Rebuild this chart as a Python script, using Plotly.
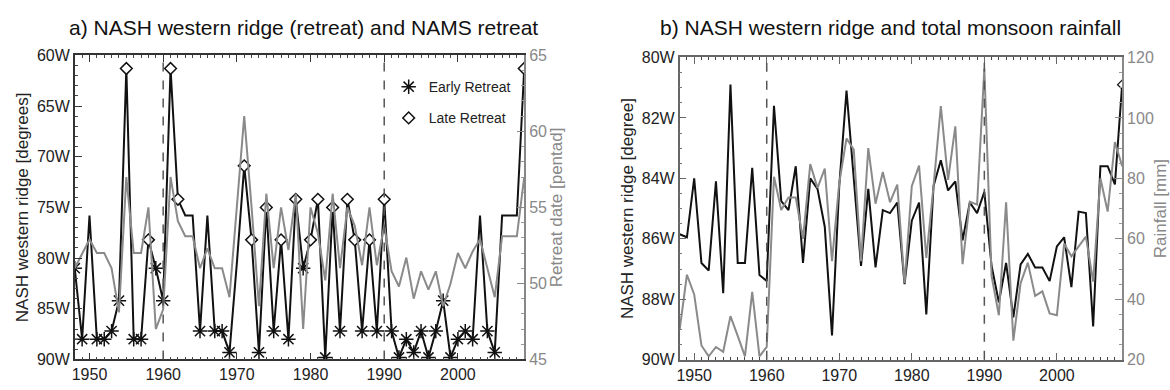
import plotly.graph_objects as go

W, H = 1170, 390

years = list(range(1948, 2010))

# a) NASH western ridge (degrees W) during retreat
ridge_a = [81.0, 88.0, 75.8, 88.0, 88.0, 87.2, 84.2, 61.3, 88.0, 88.0,
           78.2, 81.0, 84.2, 61.3, 74.2, 75.8, 75.8, 87.2, 75.8, 87.2,
           87.2, 89.3, 80.5, 70.9, 78.2, 89.3, 75.0, 87.2, 78.2, 88.0,
           74.2, 81.0, 78.2, 74.2, 89.8, 75.0, 87.2, 74.2, 78.2, 87.2,
           78.2, 87.2, 74.2, 87.2, 89.8, 88.0, 89.3, 87.2, 89.8, 87.2,
           84.2, 89.8, 88.0, 87.2, 88.0, 75.8, 87.2, 89.3, 75.8, 75.8,
           75.8, 61.3]

# a) NAMS retreat date (pentad)
retreat = [51.0, 52.0, 52.9, 52.0, 52.0, 51.0, 48.1, 57.0, 52.0, 52.0,
           55.0, 47.0, 48.3, 57.0, 54.1, 53.1, 53.1, 51.0, 52.3, 51.0,
           51.0, 49.1, 55.0, 61.0, 55.0, 48.5, 55.9, 51.0, 55.0, 52.2,
           55.9, 47.0, 55.0, 53.3, 50.2, 55.9, 51.0, 55.0, 53.8, 51.2,
           55.0, 51.2, 53.8, 50.8, 49.8, 51.7, 49.0, 50.8, 49.6, 50.8,
           48.5, 50.0, 52.0, 51.0, 52.1, 52.9, 51.0, 49.1, 53.1, 53.1,
           53.1, 57.0]

early_years = [1948, 1949, 1951, 1952, 1953, 1954, 1956, 1957, 1959, 1960,
               1965, 1967, 1968, 1969, 1973, 1975, 1977, 1979, 1982, 1984,
               1987, 1989, 1991, 1992, 1993, 1994, 1995, 1996, 1997, 1998,
               1999, 2000, 2001, 2002, 2004, 2005]
late_years = [1955, 1958, 1961, 1962, 1971, 1972, 1974, 1976, 1978, 1980,
              1981, 1983, 1985, 1986, 1988, 1990, 2009]

# b) NASH western ridge (degrees W) and total monsoon rainfall (mm)
ridge_b = [85.85, 85.95, 84.0, 86.8, 87.05, 84.1, 87.8, 80.9, 86.8, 86.8,
           83.65, 87.2, 87.4, 81.6, 84.75, 85.05, 83.6, 86.8, 84.0, 84.35,
           85.6, 89.2, 84.25, 81.1, 84.0, 86.9, 84.35, 86.95, 85.05, 85.15,
           84.8, 87.5, 85.4, 84.8, 88.5, 84.25, 83.4, 84.4, 84.1, 86.05,
           84.8, 85.15, 84.45, 86.9, 88.1, 86.8, 88.6, 86.85, 86.5, 86.95,
           86.95, 87.4, 86.25, 85.95, 87.6, 85.1, 85.15, 88.9, 83.6, 83.6,
           84.2, 80.9]

rainfall = [30.0, 48.1, 41.6, 24.7, 21.1, 24.2, 22.6, 34.4, 27.9, 21.1,
            42.4, 21.1, 24.2, 80.5, 69.5, 73.7, 73.7, 60.0, 84.7, 76.8,
            83.2, 52.6, 78.5, 93.2, 89.5, 52.6, 90.0, 71.6, 82.1, 72.1,
            77.9, 45.3, 77.4, 84.2, 53.7, 77.4, 103.9, 79.5, 97.2, 51.6,
            72.3, 71.3, 116.3, 47.6, 34.7, 72.1, 26.3, 45.3, 52.1, 41.1,
            42.6, 35.3, 34.7, 58.4, 54.2, 57.4, 60.7, 45.8, 80.0, 69.0,
            92.0, 84.0]

shift_years = [1960, 1990]

a_ticks = [60, 65, 70, 75, 80, 85, 90]
a_ticktext = ["60W", "65W", "70W", "75W", "80W", "85W", "90W"]
b_ticks = [80, 82, 84, 86, 88, 90]
b_ticktext = ["80W", "82W", "84W", "86W", "88W", "90W"]
pentad_ticks = [45, 50, 55, 60, 65]
rain_ticks = [20, 40, 60, 80, 100, 120]
year_ticks = [1950, 1960, 1970, 1980, 1990, 2000]

FONT = "Liberation Sans, Arial, sans-serif"
BLACK = "#111111"
GREY = "#8a8a8a"

fig = go.Figure()

# ---- panel a ----
fig.add_trace(go.Scatter(x=years, y=retreat, mode="lines", yaxis="y2", xaxis="x",
                         line=dict(color=GREY, width=2), showlegend=False))
fig.add_trace(go.Scatter(x=years, y=ridge_a, mode="lines", yaxis="y", xaxis="x",
                         line=dict(color=BLACK, width=2), showlegend=False))
e_vals = [ridge_a[years.index(yr)] for yr in early_years]
l_vals = [ridge_a[years.index(yr)] for yr in late_years]
fig.add_trace(go.Scatter(x=early_years, y=e_vals, mode="markers", xaxis="x", yaxis="y",
                         name="Early Retreat", legendgroup="e",
                         marker=dict(symbol="asterisk-open", size=12, color=BLACK,
                                     line=dict(color=BLACK, width=1.5))))
fig.add_trace(go.Scatter(x=late_years, y=l_vals, mode="markers", xaxis="x", yaxis="y",
                         name="Late Retreat", legendgroup="l",
                         marker=dict(symbol="diamond", size=9, color="white",
                                     line=dict(color=BLACK, width=1.5))))

# ---- panel b ----
fig.add_trace(go.Scatter(x=years, y=rainfall, mode="lines", xaxis="x2", yaxis="y4",
                         line=dict(color=GREY, width=2), showlegend=False))
fig.add_trace(go.Scatter(x=years, y=ridge_b, mode="lines", xaxis="x2", yaxis="y3",
                         line=dict(color=BLACK, width=2), showlegend=False))
fig.add_trace(go.Scatter(x=years[-1:], y=ridge_b[-1:], mode="markers", xaxis="x2", yaxis="y3",
                         showlegend=False,
                         marker=dict(symbol="diamond", size=7, color="white",
                                     line=dict(color=BLACK, width=1.3))))

# dashed shift lines
for xr in ["x", "x2"]:
    for yr in shift_years:
        fig.add_shape(type="line", xref=xr, yref=("y domain" if xr == "x" else "y3 domain"),
                      x0=yr, x1=yr, y0=0, y1=1,
                      line=dict(color="#555555", width=1.5, dash="dash"))

def px_x(p):
    return p / W

def px_y(p):
    return 1 - p / H

xa_dom = [px_x(72), px_x(523)]
ya_dom = [px_y(367.5), px_y(49.5)]
xb_dom = [px_x(679), px_x(1123)]
yb_dom = [px_y(367.7), px_y(51.7)]

common_x = dict(range=[1948, 2009], tickvals=year_ticks, ticks="inside", ticklen=7,
                tickwidth=1.2, showline=True, linewidth=1.5, mirror="ticks",
                showgrid=False, zeroline=False,
                minor=dict(ticks="inside", dtick=1, ticklen=3, tickcolor="#444", showgrid=False),
                tickfont=dict(size=16, color="#222", family=FONT))

fig.update_layout(
    width=W, height=H,
    margin=dict(l=0, r=0, t=0, b=0),
    paper_bgcolor="white", plot_bgcolor="white",
    font=dict(family=FONT, color="#222"),
    xaxis=dict(domain=xa_dom, anchor="y", linecolor="#333", tickcolor="#333", **common_x),
    yaxis=dict(domain=ya_dom, anchor="x", range=[90, 60], tickvals=a_ticks, ticktext=a_ticktext,
               ticks="inside", ticklen=7, tickwidth=1.2, tickcolor="#333",
               showline=True, linewidth=1.5, linecolor="#333", showgrid=False, zeroline=False,
               minor=dict(ticks="inside", dtick=1, ticklen=3, tickcolor="#444", showgrid=False),
               tickfont=dict(size=16, color="#222", family=FONT),
               title=dict(text="NASH western ridge [degrees]", font=dict(size=17, color="#222"),
                          standoff=4)),
    yaxis2=dict(overlaying="y", side="right", anchor="x", range=[45, 65], tickvals=pentad_ticks,
                ticks="inside", ticklen=7, tickwidth=1.2, tickcolor="#888",
                showline=True, linewidth=1.5, linecolor="#888", showgrid=False, zeroline=False,
                minor=dict(ticks="inside", dtick=1, ticklen=3, tickcolor="#999", showgrid=False),
                tickfont=dict(size=16, color="#888", family=FONT),
                title=dict(text="Retreat date [pentad]", font=dict(size=17, color="#888"),
                           standoff=4)),
    xaxis2=dict(domain=xb_dom, anchor="y3", linecolor="#666", tickcolor="#666", **common_x),
    yaxis3=dict(domain=yb_dom, anchor="x2", range=[90, 80], tickvals=b_ticks, ticktext=b_ticktext,
                ticks="inside", ticklen=7, tickwidth=1.2, tickcolor="#666",
                showline=True, linewidth=1.5, linecolor="#666", showgrid=False, zeroline=False,
                minor=dict(ticks="inside", dtick=0.5, ticklen=3, tickcolor="#777", showgrid=False),
                tickfont=dict(size=16, color="#222", family=FONT),
                title=dict(text="NASH western ridge [degree]", font=dict(size=17, color="#222"),
                           standoff=4)),
    yaxis4=dict(overlaying="y3", side="right", anchor="x2", range=[20, 120], tickvals=rain_ticks,
                ticks="inside", ticklen=7, tickwidth=1.2, tickcolor="#888",
                showline=True, linewidth=1.5, linecolor="#888", showgrid=False, zeroline=False,
                minor=dict(ticks="inside", dtick=5, ticklen=3, tickcolor="#999", showgrid=False),
                tickfont=dict(size=16, color="#888", family=FONT),
                title=dict(text="Rainfall [mm]", font=dict(size=17, color="#888"), standoff=4)),
    legend=dict(x=px_x(387), y=px_y(66), xanchor="left", yanchor="top",
                bgcolor="rgba(0,0,0,0)", font=dict(size=14, color="#222", family=FONT),
                tracegroupgap=10, itemwidth=30),
    annotations=[
        dict(text="a) NASH western ridge (retreat) and NAMS retreat", xref="paper", yref="paper",
             x=px_x(302), y=px_y(20), xanchor="center", yanchor="middle", showarrow=False,
             font=dict(size=21, color="#111", family=FONT)),
        dict(text="b) NASH western ridge and total monsoon rainfall", xref="paper", yref="paper",
             x=px_x(891), y=px_y(20), xanchor="center", yanchor="middle", showarrow=False,
             font=dict(size=21, color="#111", family=FONT)),
    ],
)

fig.write_html("out.html")
